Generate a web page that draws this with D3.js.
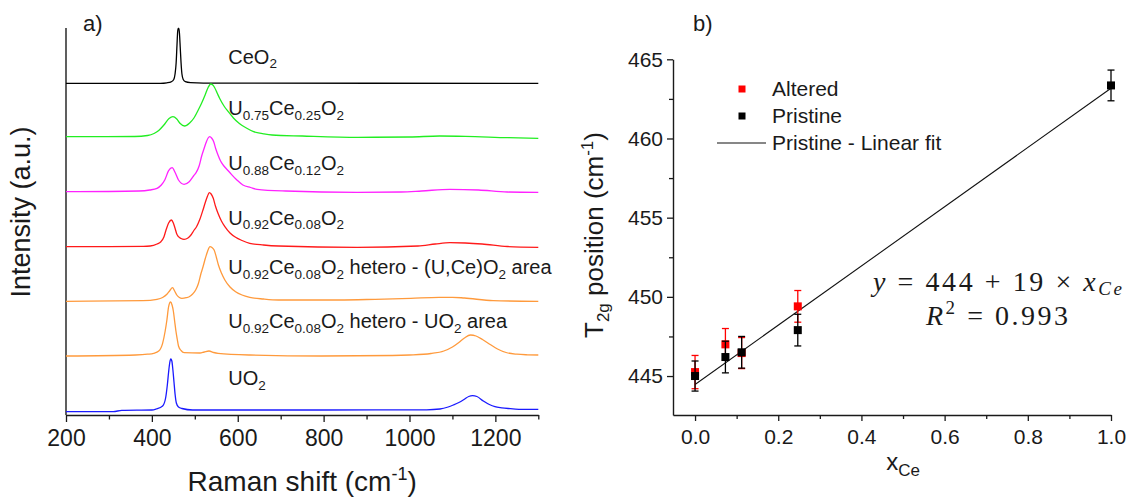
<!DOCTYPE html>
<html><head><meta charset="utf-8">
<script src="https://cdn.jsdelivr.net/npm/d3@7"></script>
<style>
body{margin:0;background:#fff;}
svg{display:block;}
text{fill:#1a1a1a;white-space:pre;}
</style>
</head><body>
<svg id="c" width="1131" height="498" font-family="Liberation Sans, Arial, sans-serif"></svg>
<script>
// ================= DATA =================
// Panel a) : Raman spectra, [Raman shift (cm-1), intensity (a.u., stacked)]
const ramanTicks = [200, 400, 600, 800, 1000, 1200];
const ramanMinorTicks = [300, 500, 700, 900, 1100, 1300];

const specCeO2 = [[200,331.7],[420,331.7],[435,332.2],[445,333.2],[451,335.5],[454,341],[456.5,352],[458.5,370],[460,383],[461.5,386.5],[463,386.5],[464.5,380],[466,368],[468,352],[470,341],[473,335.5],[478,333.3],[490,332.3],[520,331.8],[1300,331.7]];
const specU75 = [[200,278.3],[360,278.5],[390,279.5],[405,281.5],[416,284.5],[428,290],[440,296.5],[449,298.3],[458,296],[466,291.5],[476,289],[488,292],[498,297],[508,305],[516,312],[524,320],[531,327.5],[537,331],[542,330],[546,327.5],[552,322],[558,316.5],[568,309],[578,303.3],[590,297],[603,291.7],[620,287],[637,283.3],[660,281.2],[680,280],[750,279],[880,277.7],[1000,278],[1070,279],[1130,278.7],[1230,277.3],[1300,276.7]];
const specU88 = [[200,223.3],[370,224],[395,225],[412,226.7],[422,230],[430,235],[439,244.3],[447,247.3],[455,241.7],[462,235],[475,230.7],[487,233.3],[497,239],[503,242.3],[510,249],[516,259],[522,267],[527,273.3],[531,277],[535,278.3],[539,277],[544,273.3],[549,266],[554,260],[560,254],[566,250],[575,245.5],[583,241.7],[598,235],[612,230],[630,227.5],[645,225.7],[712,224],[878,222.7],[980,223],[1028,224],[1094,225.7],[1161,225],[1228,223],[1300,222.7]];
const specU92 = [[200,168.3],[380,168.7],[396,169],[412,171],[421,173.3],[428,178],[433,185],[439,192],[445.5,195],[450,192],[454,186.7],[458,181],[462,178.3],[468,176.5],[475,175.7],[484,177],[491,180],[497,184],[504,188.3],[512,196],[519,205],[524,212],[529,218.3],[534,222.3],[538,221],[543,216.7],[548,209],[554,201.7],[562,194],[570,188.3],[582,182],[595,177.7],[610,174.5],[628,171.7],[660,170],[695,169],[878,167.7],[1020,169],[1060,171],[1094,172.3],[1130,172],[1169,171],[1228,168.5],[1300,167.7]];
const specHeteroUCe = [[200,113.7],[379,114.3],[412,115.7],[425,117.5],[435,120.7],[442,124.5],[448,127.3],[453,124],[458,120],[464,117.5],[470,116.7],[480,117.3],[487,118.3],[495,121],[502,125],[508,131],[514.5,141.7],[519,148],[524.6,156.7],[530,164],[535.3,168.3],[540,167.5],[545,165],[550,158],[555,150],[562,142],[570,135],[582,128],[595,123.3],[610,120],[628,117.7],[660,116],[695,115],[836,115],[920,115.7],[1003,116.7],[1069,117.7],[1100,117.7],[1128,117],[1195,114.3],[1300,113.7]];
const specHeteroUO2 = [[200,59],[362,60],[390,60.8],[404,61.7],[416,64],[425,71.7],[431,84],[435,95],[439,108.3],[443.5,113],[447,110],[450,104],[453,94],[456,84],[459,76],[462,69],[468,64.5],[475,62.3],[512,62],[522,63],[533,64],[544,62.5],[554,61.7],[628,60],[795,59],[960,59.5],[1000,60],[1050,61.5],[1080,64],[1100,68],[1115,72.5],[1128,77],[1142,80],[1155,79],[1170,75.5],[1188,70.5],[1205,66],[1225,62.5],[1250,60.8],[1275,60.2],[1300,60]];
const specUO2 = [[200,3.3],[310,3.4],[330,4.6],[400,5],[410,6],[425,9],[432,17],[436,30],[439,43],[441.5,52],[444,56],[446.5,54],[449,45],[451.5,33],[454,21],[457,12],[462,8],[470,6.5],[495,5],[795,5],[920,5.2],[1040,5.2],[1071,6],[1090,8],[1102,10],[1115,12.5],[1127,15.5],[1138,18.5],[1147,19.3],[1157,18.5],[1172,14],[1186,10.5],[1199,8.3],[1215,7.2],[1230,6.5],[1255,5.7],[1300,5.7]];

const spectraSeries = [specCeO2, specU75, specU88, specU92, specHeteroUCe, specHeteroUO2, specUO2];
const spectraColors = ["#000000", "#22ee22", "#ff22ff", "#ff1a1a", "#ff9a3c", "#ff9a3c", "#1a1aff"];
const spectraLabels = ["CeO_{2}", "U_{0.75}Ce_{0.25}O_{2}", "U_{0.88}Ce_{0.12}O_{2}", "U_{0.92}Ce_{0.08}O_{2}",
  "U_{0.92}Ce_{0.08}O_{2} hetero - (U,Ce)O_{2} area", "U_{0.92}Ce_{0.08}O_{2} hetero - UO_{2} area", "UO_{2}"];
const labelShift = 578;                               // cm-1, where labels start
const labelIntensity = [351.5, 300, 245, 190.5, 141, 87, 30];  // a.u., label baselines

// Panel b) : T2g position vs x_Ce
const xCeTicks = [0, 0.2, 0.4, 0.6, 0.8, 1.0];
const xCeMinorTicks = [0.1, 0.3, 0.5, 0.7, 0.9];
const t2gTicks = [445, 450, 455, 460, 465];
const t2gMinorTicks = [447.5, 452.5, 457.5, 462.5];

const alteredX   = [0, 0.073, 0.112, 0.247];
const alteredY   = [445.25, 447.0, 446.45, 449.4];
const alteredErr = [1.05, 1.0, 0.98, 1.0];

const pristineX   = [0, 0.073, 0.112, 0.247, 1.0];
const pristineY   = [445.0, 446.2, 446.5, 447.9, 463.35];
const pristineErr = [0.95, 1.0, 1.0, 1.0, 0.97];

const fitX = [0, 1.0];
const fitY = [444.47, 463.17];

const legendLabels = ["Altered", "Pristine", "Pristine - Linear fit"];

// ================= DRAWING =================
const svg = d3.select("#c");
const ink = "#1a1a1a";
const sans = "Liberation Sans, Arial, sans-serif";

function rich(sel, str, small, subShift, supShift) {
  const parts = str.split(/(_\{[^}]*\}|\^\{[^}]*\})/).filter(s => s.length);
  let offset = 0;
  parts.forEach(p => {
    let t = p, kind = "n";
    if (p.startsWith("_{")) { kind = "sub"; t = p.slice(2, -1); }
    else if (p.startsWith("^{")) { kind = "sup"; t = p.slice(2, -1); }
    const target = kind === "sub" ? subShift : kind === "sup" ? -supShift : 0;
    const ts = sel.append("tspan").text(t).attr("dy", target - offset);
    offset = target;
    if (kind !== "n") ts.attr("font-size", small);
  });
}

// ---------- Panel a ----------
const xa = d3.scaleLinear().domain([200, 1300]).range([66, 538.3]);
const ya = d3.scaleLinear().domain([0, 387]).range([415, 28]);

const gA = svg.append("g");
gA.append("line").attr("x1", xa(200)).attr("x2", xa(200)).attr("y1", ya(387)).attr("y2", ya(0))
  .attr("stroke", ink).attr("stroke-width", 1.4);

const axA = gA.append("g").attr("transform", `translate(0,${ya(0)})`)
  .call(d3.axisBottom(xa).tickValues(ramanTicks).tickSize(7).tickSizeOuter(0).tickPadding(8).tickFormat(d3.format("d")));
axA.select(".domain").attr("stroke", ink).attr("stroke-width", 1.4);
axA.selectAll(".tick line").attr("stroke", ink).attr("stroke-width", 1.3);
axA.selectAll(".tick text").attr("font-size", 23).attr("font-family", sans).attr("fill", ink);
const axAm = gA.append("g").attr("transform", `translate(0,${ya(0)})`)
  .call(d3.axisBottom(xa).tickValues(ramanMinorTicks).tickSize(4.5).tickSizeOuter(0).tickFormat(""));
axAm.select(".domain").remove();
axAm.selectAll(".tick line").attr("stroke", ink).attr("stroke-width", 1.3);

const lineA = d3.line().x(d => xa(d[0])).y(d => ya(d[1])).curve(d3.curveMonotoneX);
spectraSeries.forEach((s, i) => {
  gA.append("path").datum(s).attr("d", lineA).attr("fill", "none")
    .attr("stroke", spectraColors[i]).attr("stroke-width", 1.3).attr("stroke-linejoin", "round");
});
spectraLabels.forEach((lab, i) => {
  const t = gA.append("text").attr("x", xa(labelShift)).attr("y", ya(labelIntensity[i]))
    .attr("font-size", 20);
  rich(t, lab, 13.5, 4.5, 8);
});

gA.append("text").attr("x", 83).attr("y", 31).attr("font-size", 22).text("a)");

const tA = gA.append("text").attr("text-anchor", "middle").attr("font-size", 28)
  .attr("x", (xa(200) + xa(1300)) / 2).attr("y", 491);
rich(tA, "Raman shift (cm^{-1})", 18, 0, 11);

gA.append("text").attr("text-anchor", "middle").attr("font-size", 27)
  .attr("transform", `translate(30,212) rotate(-90)`).text("Intensity (a.u.)");

// ---------- Panel b ----------
const xb = d3.scaleLinear().domain([-0.053, 1.0]).range([673, 1111]);
const yb = d3.scaleLinear().domain([442.54, 465]).range([415, 59.3]);
const gB = svg.append("g");

const axBx = gB.append("g").attr("transform", `translate(0,${yb.range()[0]})`)
  .call(d3.axisBottom(xb).tickValues(xCeTicks).tickSize(6).tickSizeOuter(0).tickPadding(8.5).tickFormat(d3.format(".1f")));
axBx.select(".domain").attr("stroke", ink).attr("stroke-width", 1.4);
const axBxm = gB.append("g").attr("transform", `translate(0,${yb.range()[0]})`)
  .call(d3.axisBottom(xb).tickValues(xCeMinorTicks).tickSize(4).tickSizeOuter(0).tickFormat(""));
axBxm.select(".domain").remove();

const axBy = gB.append("g").attr("transform", `translate(${xb.range()[0]},0)`)
  .call(d3.axisLeft(yb).tickValues(t2gTicks).tickSize(6).tickSizeOuter(0).tickPadding(4).tickFormat(d3.format("d")));
axBy.select(".domain").attr("stroke", ink).attr("stroke-width", 1.4);
const axBym = gB.append("g").attr("transform", `translate(${xb.range()[0]},0)`)
  .call(d3.axisLeft(yb).tickValues(t2gMinorTicks).tickSize(4).tickSizeOuter(0).tickFormat(""));
axBym.select(".domain").remove();
[axBx, axBxm, axBy, axBym].forEach(a => a.selectAll(".tick line").attr("stroke", ink).attr("stroke-width", 1.3));
[axBx, axBy].forEach(a => a.selectAll(".tick text").attr("font-size", 21)
  .attr("font-family", sans).attr("fill", ink));

// fit line
gB.append("path").datum(fitX.map((x, i) => [x, fitY[i]]))
  .attr("d", d3.line().x(d => xb(d[0])).y(d => yb(d[1])))
  .attr("stroke", "#111").attr("stroke-width", 1.1).attr("fill", "none");

function drawSeries(xs, ys, es, color, size) {
  const g = gB.append("g");
  xs.forEach((x, i) => {
    const cx = xb(x), top = yb(ys[i] + es[i]), bot = yb(ys[i] - es[i]);
    g.append("line").attr("x1", cx).attr("x2", cx).attr("y1", top).attr("y2", bot)
      .attr("stroke", color).attr("stroke-width", 1.3);
    [top, bot].forEach(yy => g.append("line").attr("x1", cx - 3.5).attr("x2", cx + 3.5)
      .attr("y1", yy).attr("y2", yy).attr("stroke", color).attr("stroke-width", 1.3));
    g.append("rect").attr("x", cx - size / 2).attr("y", yb(ys[i]) - size / 2)
      .attr("width", size).attr("height", size).attr("fill", color);
  });
}
drawSeries(alteredX, alteredY, alteredErr, "#ff0000", 8);
drawSeries(pristineX, pristineY, pristineErr, "#000000", 8);

// legend
const lg = gB.append("g");
lg.append("rect").attr("x", 738.5).attr("y", 85.5).attr("width", 7).attr("height", 7).attr("fill", "#ff0000");
lg.append("rect").attr("x", 738.5).attr("y", 112.5).attr("width", 7).attr("height", 7).attr("fill", "#000");
lg.append("line").attr("x1", 717).attr("x2", 766).attr("y1", 143).attr("y2", 143).attr("stroke", "#111").attr("stroke-width", 1.1);
[89, 116, 143].forEach((yy, i) => lg.append("text").attr("x", 772).attr("y", yy).attr("dy", "0.35em")
  .attr("font-size", 21).text(legendLabels[i]));

// equation
const eqFont = "Liberation Serif, DejaVu Serif, serif";
const eq1 = gB.append("text").attr("x", 873).attr("y", 291).attr("font-size", 28)
  .attr("font-family", eqFont).attr("textLength", 249).attr("lengthAdjust", "spacing");
eq1.append("tspan").attr("font-style", "italic").text("y");
eq1.append("tspan").text(" = 444 + 19 × ");
eq1.append("tspan").attr("font-style", "italic").text("x");
eq1.append("tspan").attr("font-style", "italic").attr("font-size", 19).attr("dy", 4).text("Ce");
const eq2 = gB.append("text").attr("x", 926).attr("y", 325).attr("font-size", 28)
  .attr("font-family", eqFont).attr("textLength", 142).attr("lengthAdjust", "spacing");
eq2.append("tspan").attr("font-style", "italic").text("R");
eq2.append("tspan").attr("font-size", 19).attr("dy", -11).text("2");
eq2.append("tspan").attr("dy", 11).text(" = 0.993");

gB.append("text").attr("x", 693).attr("y", 31).attr("font-size", 22).text("b)");

const tBx = gB.append("text").attr("text-anchor", "middle").attr("font-size", 24)
  .attr("x", 903).attr("y", 470);
rich(tBx, "x_{Ce}", 17, 6, 0);

const tBy = gB.append("text").attr("text-anchor", "middle").attr("font-size", 26)
  .attr("transform", `translate(603,235) rotate(-90)`);
rich(tBy, "T_{2g} position (cm^{-1})", 17, 6, 10);
</script>
</body></html>
